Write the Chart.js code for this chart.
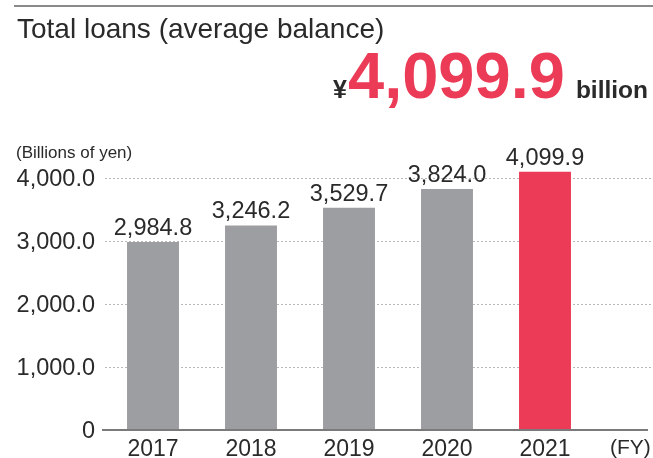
<!DOCTYPE html>
<html>
<head>
<meta charset="utf-8">
<script src="https://cdn.jsdelivr.net/npm/chart.js@4"></script>
<style>
  html, body { margin: 0; padding: 0; background: #fff; }
  #wrap { position: relative; width: 653px; height: 458px; overflow: hidden; font-family: "Liberation Sans", Arial, sans-serif; color: #2a2a2a; }
  #rule { position: absolute; left: 14px; top: 5px; width: 639px; height: 2px; background: #8a8a8a; }
  #title { position: absolute; left: 17px; top: 15px; font-size: 28px; line-height: 1; white-space: nowrap; }
  #headline { position: absolute; right: 5px; top: 43px; font-size: 65px; line-height: 65px; font-weight: bold; white-space: nowrap; }
  #headline .yen { font-size: 25px; margin-right: 1px; }
  #headline .num { color: #ec3b57; }
  #headline .unit { font-size: 24.5px; margin-left: 11px; }
  #unitLabel { position: absolute; left: 16px; top: 144px; font-size: 17px; line-height: 1; white-space: nowrap; }
  #fy { position: absolute; left: 610px; top: 436px; font-size: 21px; line-height: 1; white-space: nowrap; }
  canvas { position: absolute; left: 0; top: 0; }
</style>
</head>
<body>
<div id="wrap">
  <canvas id="chart" width="653" height="458"></canvas>
  <div id="rule"></div>
  <div id="title">Total loans (average balance)</div>
  <div id="headline"><span class="yen">¥</span><span class="num">4,099.9</span><span class="unit">billion</span></div>
  <div id="unitLabel">(Billions of yen)</div>
  <div id="fy">(FY)</div>
</div>
<script>
const years = ["2017", "2018", "2019", "2020", "2021"];
const loans = [2984.8, 3246.2, 3529.7, 3824.0, 4099.9];
const barColors = ["#9d9ea2", "#9d9ea2", "#9d9ea2", "#9d9ea2", "#ec3b57"];
const yTicks = [0, 1000, 2000, 3000, 4000];

const FONT = '"Liberation Sans", Arial, sans-serif';
const TEXT = "#2a2a2a";

const fmt1 = new Intl.NumberFormat("en-US", { minimumFractionDigits: 1, maximumFractionDigits: 1 });

function tickLabel(v) {
  return v === 0 ? "0" : fmt1.format(v);
}

// dotted grid running out to the right edge, plus the solid base line
const gridPlugin = {
  id: "gridLines",
  beforeDatasetsDraw(chart) {
    const { ctx, chartArea, scales } = chart;
    ctx.save();
    ctx.strokeStyle = "#b8b8b8";
    ctx.lineWidth = 1;
    ctx.setLineDash([2, 2]);
    for (const v of yTicks) {
      if (v === 0) continue;
      const y = Math.round(scales.y.getPixelForValue(v)) + 0.5;
      ctx.beginPath();
      ctx.moveTo(chartArea.left + 1, y);
      ctx.lineTo(chart.width, y);
      ctx.stroke();
    }
    ctx.restore();
  },
  afterDatasetsDraw(chart) {
    const { ctx, chartArea, scales } = chart;
    const y = scales.y.getPixelForValue(0);
    ctx.save();
    ctx.strokeStyle = "#7a7a7a";
    ctx.lineWidth = 2;
    ctx.beginPath();
    ctx.moveTo(chartArea.left - 2, y);
    ctx.lineTo(chart.width - 5, y);
    ctx.stroke();
    ctx.restore();
  },
};

// value labels above each bar
const valueLabels = {
  id: "valueLabels",
  afterDatasetsDraw(chart) {
    const { ctx } = chart;
    const meta = chart.getDatasetMeta(0);
    ctx.save();
    ctx.font = `23.5px ${FONT}`;
    ctx.fillStyle = TEXT;
    ctx.textAlign = "center";
    ctx.textBaseline = "alphabetic";
    meta.data.forEach((bar, i) => {
      ctx.fillText(fmt1.format(loans[i]), bar.x, bar.y - 7);
    });
    ctx.restore();
  },
};

new Chart(document.getElementById("chart"), {
  type: "bar",
  data: {
    labels: years,
    datasets: [
      {
        data: loans,
        backgroundColor: barColors,
        borderWidth: 0,
        barPercentage: 0.53,
        categoryPercentage: 1,
        clip: false,
      },
    ],
  },
  options: {
    responsive: false,
    animation: false,
    events: [],
    layout: { padding: { top: 178, right: 59, left: 0, bottom: 0 } },
    plugins: { legend: { display: false }, tooltip: { enabled: false } },
    scales: {
      x: {
        grid: { display: false, drawTicks: false },
        border: { display: false },
        ticks: { color: TEXT, font: { family: FONT, size: 23 }, padding: 6 },
        afterFit: (s) => { s.height = 28; },
      },
      y: {
        min: 0,
        max: 4000,
        grid: { display: false, drawTicks: false },
        border: { display: false },
        afterBuildTicks: (s) => { s.ticks = yTicks.map((v) => ({ value: v })); },
        ticks: {
          color: TEXT,
          font: { family: FONT, size: 23.5 },
          padding: 9,
          labelOffset: 2,
          callback: (v) => tickLabel(v),
        },
        afterFit: (s) => { s.width = 104; },
      },
    },
  },
  plugins: [gridPlugin, valueLabels],
});
</script>
</body>
</html>
